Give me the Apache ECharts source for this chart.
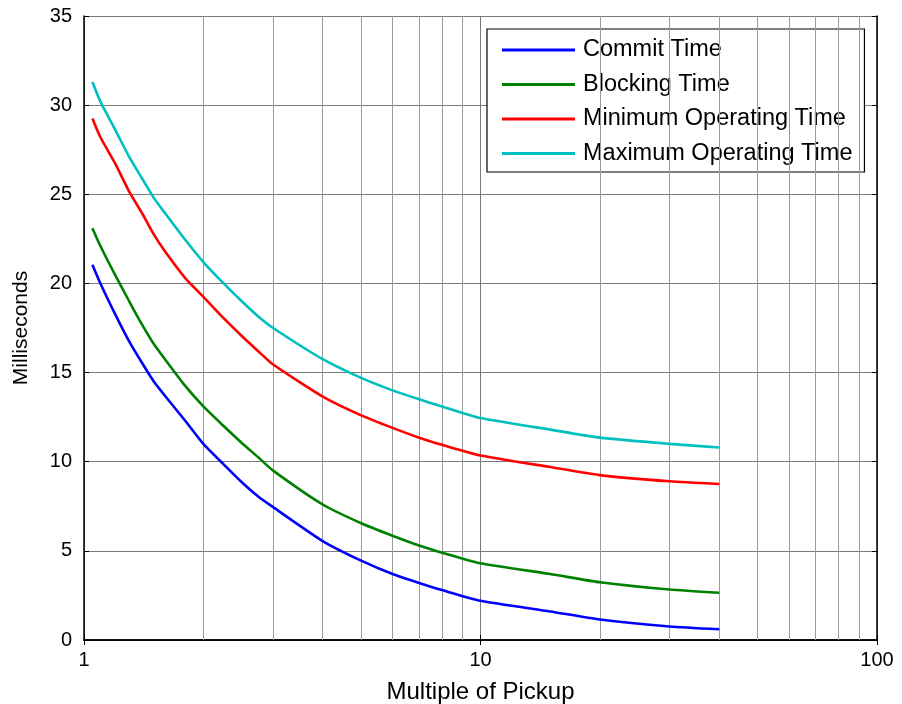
<!DOCTYPE html>
<html><head><meta charset="utf-8">
<script src="https://cdn.jsdelivr.net/npm/echarts@6/dist/echarts.min.js"></script>
<style>html,body{margin:0;padding:0;background:#fff}#c{width:902px;height:704px}</style>
</head><body><div id="c"></div>
<script>
const multiples = [1.05,1.1,1.2,1.3,1.4,1.5,1.6,1.8,2,2.25,2.5,2.75,3,4,5,6,7,8,10,15,20,30,40];
const commitTime = [21.05,20.0,18.25,16.75,15.55,14.5,13.7,12.3,11.0,9.85,8.85,8.05,7.45,5.55,4.45,3.7,3.2,2.8,2.2,1.6,1.15,0.76,0.6];
const blockingTime = [23.1,22.1,20.45,19.0,17.7,16.6,15.75,14.25,13.1,12.0,11.05,10.25,9.5,7.6,6.55,5.85,5.3,4.9,4.3,3.7,3.24,2.83,2.65];
const minOperatingTime = [29.25,28.2,26.7,25.15,23.95,22.75,21.8,20.3,19.25,18.05,17.05,16.2,15.45,13.65,12.6,11.9,11.35,10.95,10.35,9.7,9.25,8.9,8.75];
const maxOperatingTime = [31.3,30.2,28.6,27.1,25.9,24.8,23.95,22.45,21.2,20.0,19.0,18.15,17.5,15.75,14.7,14.0,13.5,13.1,12.45,11.8,11.35,11.0,10.8];
const minorGridX = [2,3,4,5,6,7,8,9,20,30,40,50,60,70,80,90];
const seriesNames = ['Commit Time','Blocking Time','Minimum Operating Time','Maximum Operating Time'];
const seriesColors = ['#0000ff','#008000','#ff0000','#00bfbf'];
const seriesData = [commitTime, blockingTime, minOperatingTime, maxOperatingTime];

const FONT = 'Liberation Sans, Arial, sans-serif';
const chart = echarts.init(document.getElementById('c'));
const series = seriesNames.map((n,i)=>({
  name:n, type:'line', xAxisIndex:0, yAxisIndex:0,
  data: multiples.map((x,j)=>[x, seriesData[i][j]]),
  showSymbol:false, symbol:'none', smooth:0.2,
  lineStyle:{color:seriesColors[i], width:2.6}, itemStyle:{color:seriesColors[i]},
  z:5
}));
series.unshift({
  type:'line', xAxisIndex:0, yAxisIndex:0, data:[], silent:true,
  markLine:{silent:true, symbol:'none', label:{show:false},
    lineStyle:{color:'#9a9a9a', width:1, type:'solid'},
    data: minorGridX.map(v=>({xAxis:v}))},
  z:1
});
chart.setOption({
  animation:false,
  backgroundColor:'#fff',
  grid:{left:84, right:25, top:16, bottom:64, containLabel:false, outerBoundsMode:'none'},
  legend:{
    data:seriesNames, orient:'vertical', left:487, top:29,
    backgroundColor:'#fff', borderColor:'#000', borderWidth:1.2,
    padding:[9,12,6.5,15], itemWidth:73, itemHeight:23, itemGap:10.5,
    textStyle:{fontFamily:FONT, fontSize:23.5, color:'#000', padding:[0,0,0,3]},
    icon:'path://M0,0 L73,0 L73,3 L0,3 Z'
  },
  xAxis:[{
    type:'log', logBase:10, min:1, max:100,
    name:'Multiple of Pickup', nameLocation:'middle', nameGap:40,
    nameTextStyle:{fontFamily:FONT, fontSize:24, color:'#000'},
    axisLine:{lineStyle:{color:'#000', width:1.5}},
    axisTick:{inside:true, length:5, lineStyle:{color:'#000'}},
    axisLabel:{fontFamily:FONT, fontSize:20, color:'#000', margin:10},
    splitLine:{show:true, lineStyle:{color:'#7a7a7a', width:1}},
    minorTick:{show:false}
  },{
    type:'log', logBase:10, min:1, max:100, position:'top',
    axisLine:{show:true, lineStyle:{color:'#000', width:1.5}},
    axisTick:{inside:true, length:5, lineStyle:{color:'#000'}},
    axisLabel:{show:false}, splitLine:{show:false}
  }],
  yAxis:[{
    type:'value', min:0, max:35, interval:5,
    name:'Milliseconds', nameLocation:'middle', nameGap:52, nameRotate:90,
    nameTextStyle:{fontFamily:FONT, fontSize:21, color:'#000'},
    axisLine:{show:true, lineStyle:{color:'#000', width:1.5}},
    axisTick:{show:true, inside:true, length:5, lineStyle:{color:'#000'}},
    axisLabel:{fontFamily:FONT, fontSize:20, color:'#000', margin:12},
    splitLine:{show:true, lineStyle:{color:'#7a7a7a', width:1}}
  },{
    type:'value', min:0, max:35, interval:5, position:'right',
    axisLine:{show:true, lineStyle:{color:'#000', width:1.5}},
    axisTick:{show:true, inside:true, length:5, lineStyle:{color:'#000'}},
    axisLabel:{show:false}, splitLine:{show:false}
  }],
  series: series
});
</script></body></html>
